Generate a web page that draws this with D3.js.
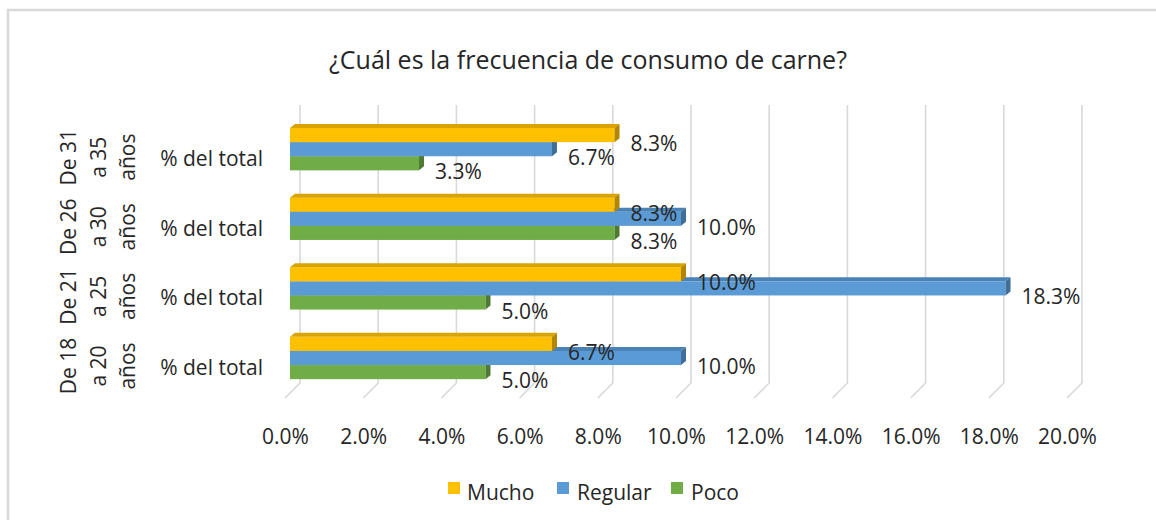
<!DOCTYPE html>
<html>
<head>
<meta charset="utf-8">
<script src="https://cdn.jsdelivr.net/npm/d3@7"></script>
<style>
  html, body { margin: 0; padding: 0; background: #ffffff; }
  svg { display: block; }
  text { font-family: "Open Sans", "Noto Sans", sans-serif; fill: #262626; }
</style>
</head>
<body>
<svg id="chart" width="1156" height="520"></svg>
<script>
// ---- data ----
const title = "¿Cuál es la frecuencia de consumo de carne?";
const categories = ["De 18 a 20 años", "De 21 a 25 años", "De 26 a 30 años", "De 31 a 35 años"]; // bottom -> top
const categoryLines = [["De 18", "a 20", "años"], ["De 21", "a 25", "años"], ["De 26", "a 30", "años"], ["De 31", "a 35", "años"]];
const subLabel = "% del total";
const series = ["Mucho", "Regular", "Poco"];
const mucho   = [0.067, 0.100, 0.083, 0.083];
const regular = [0.100, 0.183, 0.100, 0.067];
const poco    = [0.050, 0.050, 0.083, 0.033];
const tickValues = [0, 0.02, 0.04, 0.06, 0.08, 0.10, 0.12, 0.14, 0.16, 0.18, 0.20];

const values = { "Mucho": mucho, "Regular": regular, "Poco": poco };
const colors = {
  "Mucho":   { front: "#FFC000", top: "#D9A300", side: "#B38600" },
  "Regular": { front: "#5B9BD5", top: "#4B82B5", side: "#3F6E99" },
  "Poco":    { front: "#70AD47", top: "#5E923B", side: "#4E7A31" }
};
const FS = 21;

const svg = d3.select("#chart");

// chart border
svg.append("rect")
  .attr("x", 8).attr("y", 10).attr("width", 1300).attr("height", 700)
  .attr("fill", "none").attr("stroke", "#d9d9d9").attr("stroke-width", 2.5);

// scales
const x = d3.scaleLinear().domain([0, 0.20]).range([290, 1072]);
const y = d3.scaleBand().domain(categories.slice().reverse())
  .range([114.4, 392.8]).paddingInner(0.392).paddingOuter(0.196);
const ys = d3.scaleBand().domain(series).range([0, y.bandwidth()]);

const dx = 5, dy = 4;           // 3D depth offset of the bars
const wallDx = 10, floorDx = -5; // back wall / floor front offsets
const wallTop = 105, wallBottom = 383, floorFront = 398;

// gridlines (back wall + floor slant)
const grid = svg.append("g");
tickValues.forEach(t => {
  const xb = x(t) + wallDx, xf = x(t) + floorDx;
  grid.append("path")
    .attr("d", `M${xb},${wallTop} L${xb},${wallBottom} L${xf},${floorFront}`)
    .attr("fill", "none").attr("stroke", "#d9d9d9").attr("stroke-width", 1.6);
});

// title
svg.append("text")
  .attr("x", 588).attr("y", 59)
  .attr("text-anchor", "middle").attr("dominant-baseline", "central")
  .style("font-size", "25px")
  .text(title);

// x axis labels
const xAxis = d3.axisBottom(d3.scaleLinear().domain(x.domain()).range(x.range().map(r => r + floorDx)))
  .tickValues(tickValues).tickFormat(d3.format(".1%")).tickSize(0).tickPadding(0);
const gx = svg.append("g").attr("transform", "translate(0,429)").call(xAxis);
gx.select(".domain").remove();
gx.selectAll("text").style("font-size", FS + "px").style("font-family", "'Open Sans', sans-serif").attr("fill", "#262626");

// bars
const bars = svg.append("g");
categories.forEach((cat, ci) => {
  const seriesOrder = series.slice().reverse(); // draw Poco, Regular, Mucho
  seriesOrder.forEach(s => {
    const v = values[s][ci];
    const x0 = x(0), x1 = x(v);
    const yy = y(cat) + ys(s), h = ys.bandwidth();
    const c = colors[s];
    bars.append("rect").attr("x", x0).attr("y", yy).attr("width", x1 - x0).attr("height", h).attr("fill", c.front);
    bars.append("path")
      .attr("d", `M${x0},${yy} L${x0 + dx},${yy - dy} L${x1 + dx},${yy - dy} L${x1},${yy} Z`)
      .attr("fill", c.top);
    bars.append("path")
      .attr("d", `M${x1},${yy} L${x1 + dx},${yy - dy} L${x1 + dx},${yy + h - dy} L${x1},${yy + h} Z`)
      .attr("fill", c.side);
  });
});

// data labels
const labels = svg.append("g");
categories.forEach((cat, ci) => {
  series.forEach(s => {
    const v = values[s][ci];
    labels.append("text")
      .attr("x", x(v) + 16)
      .attr("y", y(cat) + ys(s) + ys.bandwidth() + 1)
      .attr("dominant-baseline", "central")
      .style("font-size", FS + "px")
      .text(d3.format(".1%")(v));
  });
});

// category labels
const catG = svg.append("g");
categories.forEach((cat, ci) => {
  const cy = y(cat) + y.bandwidth() / 2 + 9;
  catG.append("text")
    .attr("x", 263).attr("y", cy)
    .attr("text-anchor", "end").attr("dominant-baseline", "central")
    .style("font-size", FS + "px")
    .text(subLabel);
  const lineX = [68, 98, 127];
  categoryLines[ci].forEach((ln, li) => {
    catG.append("text")
      .attr("transform", `translate(${lineX[li]},${cy - 1}) rotate(-90)`)
      .attr("text-anchor", "middle").attr("dominant-baseline", "central")
      .style("font-size", FS + "px")
      .text(ln);
  });
});

// legend
const legendItems = [
  { name: "Mucho", sx: 448, tx: 467 },
  { name: "Regular", sx: 557, tx: 577 },
  { name: "Poco", sx: 671, tx: 691 }
];
const lg = svg.append("g");
legendItems.forEach(it => {
  lg.append("rect").attr("x", it.sx).attr("y", 482).attr("width", 12).attr("height", 12)
    .attr("fill", colors[it.name].front);
  lg.append("text").attr("x", it.tx).attr("y", 492)
    .attr("dominant-baseline", "central")
    .style("font-size", FS + "px")
    .text(it.name);
});
</script>
</body>
</html>
